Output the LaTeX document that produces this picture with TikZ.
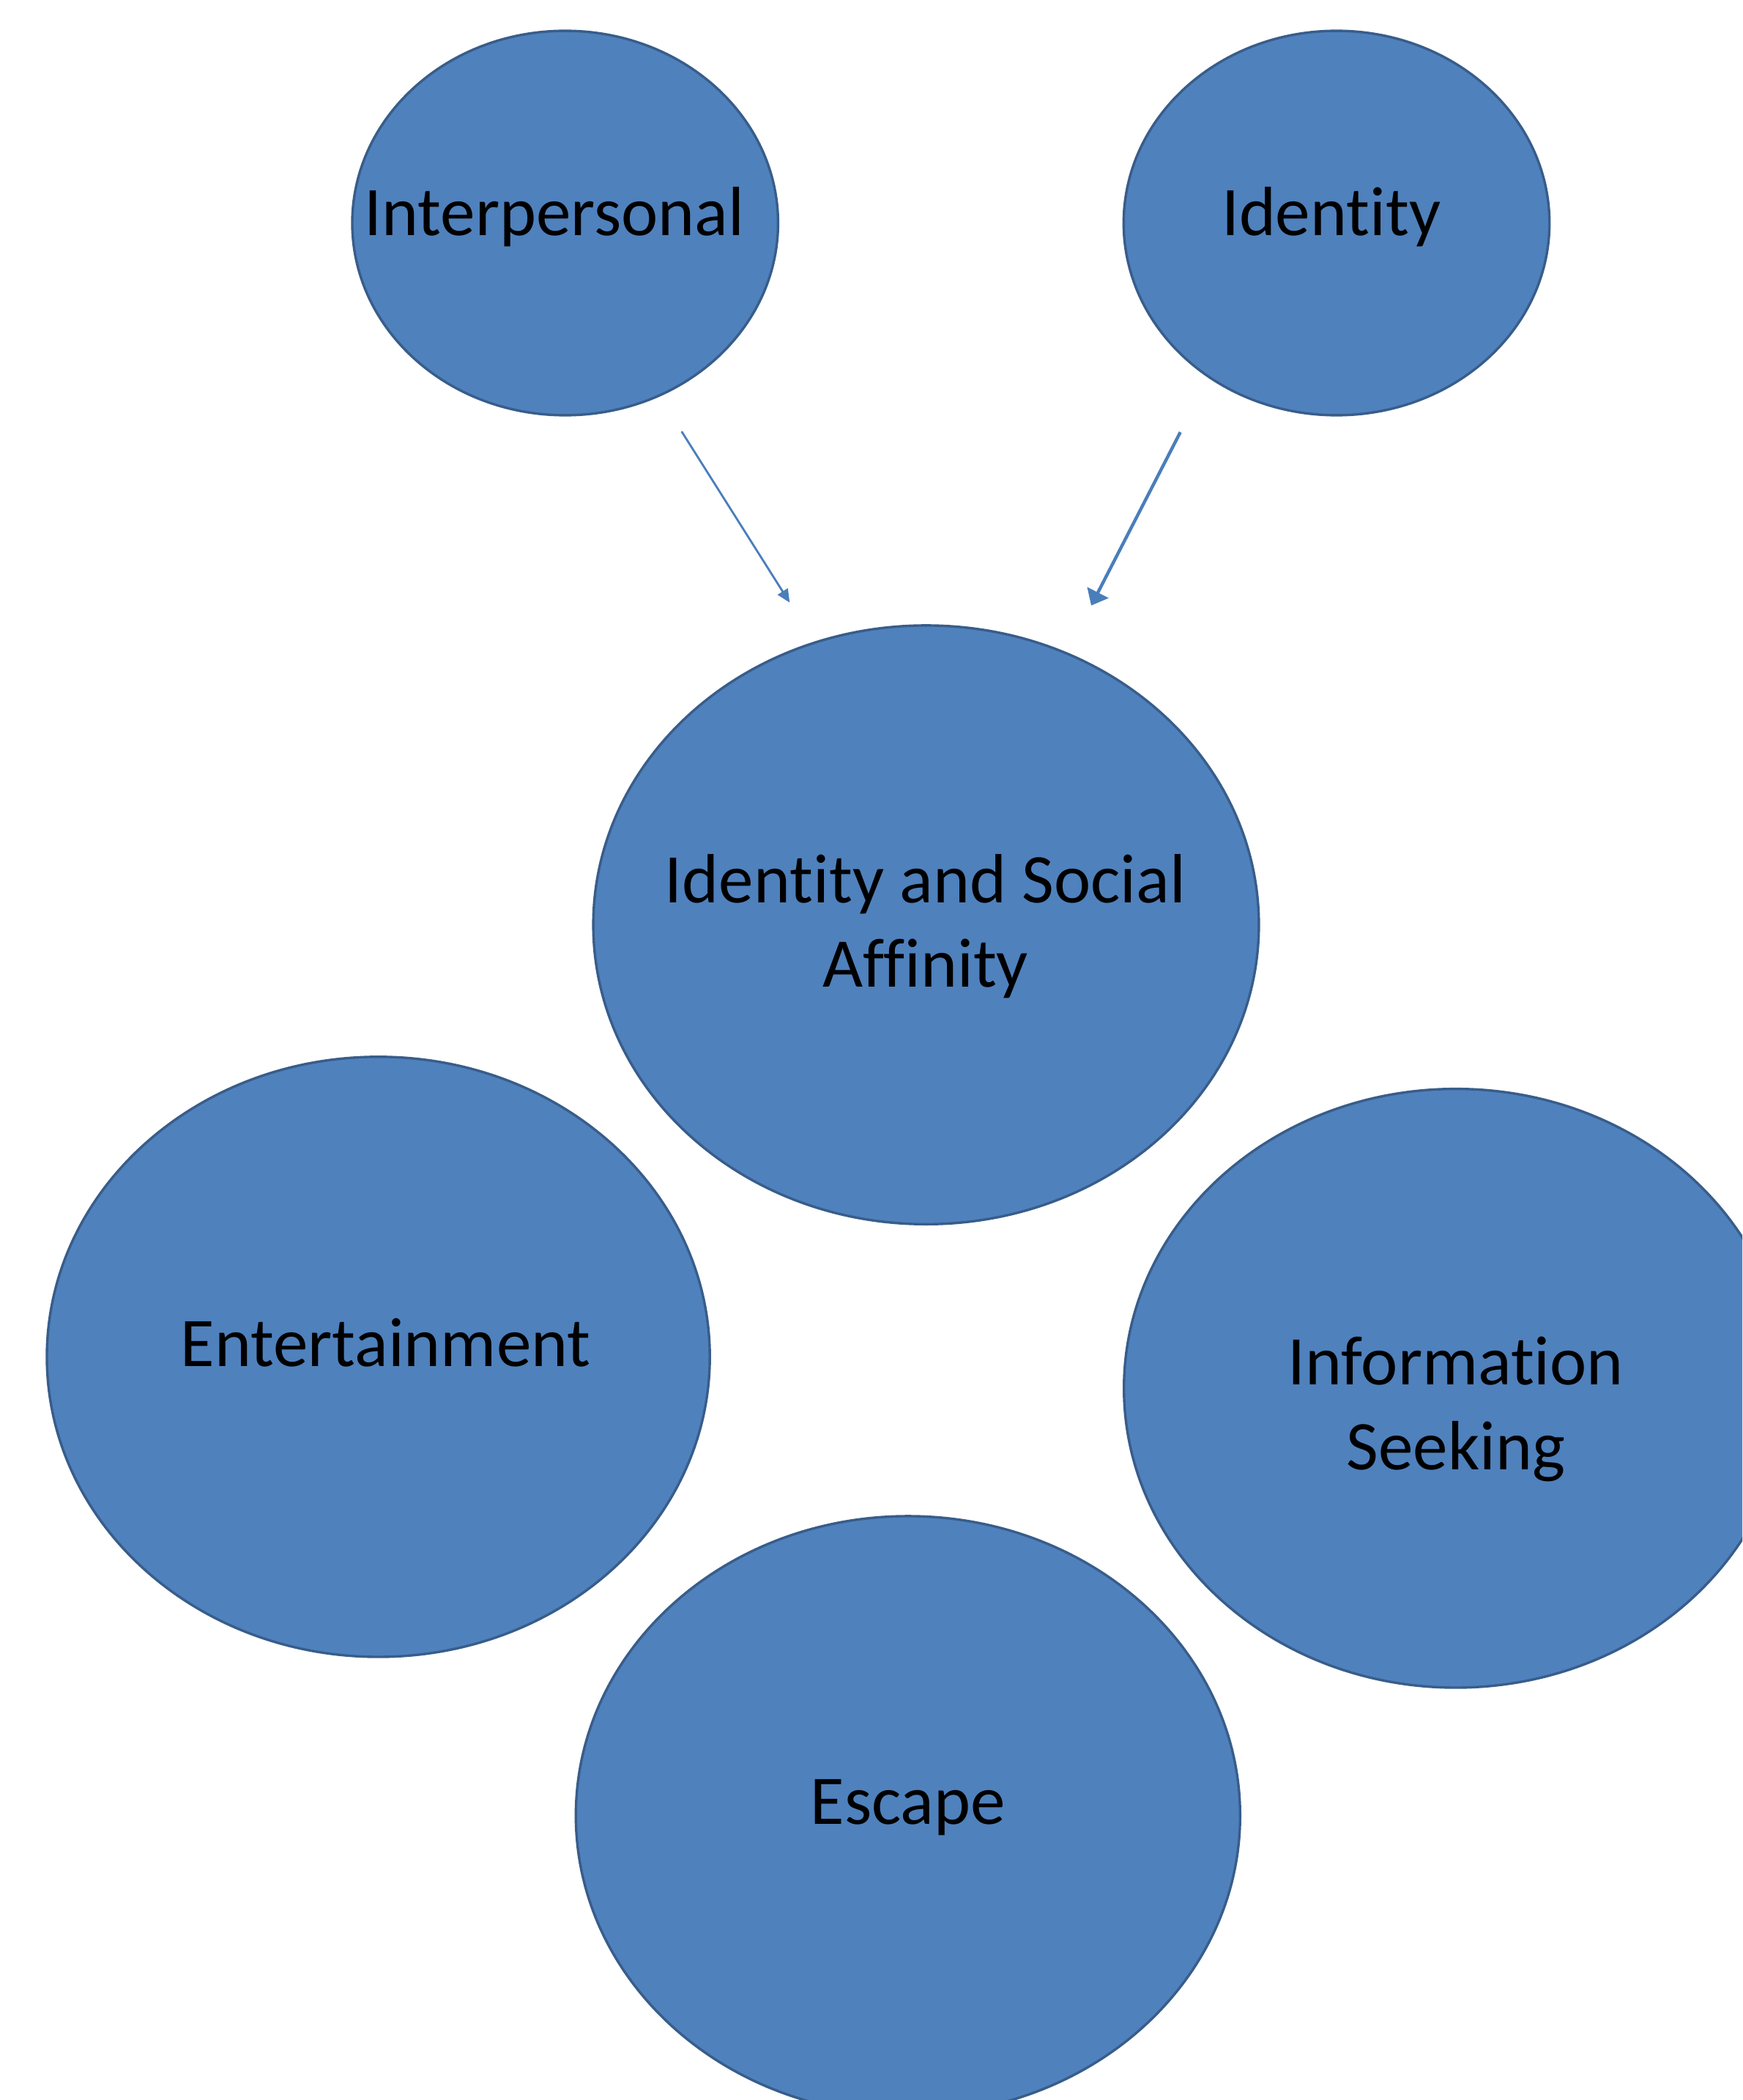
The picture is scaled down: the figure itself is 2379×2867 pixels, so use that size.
\documentclass[tikz,border=0pt]{standalone}
\usepackage{fontspec}
\setmainfont{Carlito}[RawFeature={-liga;-clig;-dlig;-calt;-rlig}]
\usetikzlibrary{arrows.meta}
\definecolor{bfill}{HTML}{4F81BD}
\definecolor{bline}{HTML}{385D8A}
\definecolor{arr}{HTML}{4A7EBB}
\tikzset{
  bubble/.style={fill=bfill, draw=bline, line width=0.85pt},
  lbl/.style={font=\fontsize{23.8}{28.8}\selectfont, text=black, inner sep=0pt, anchor=base},
  conn/.style={draw=arr, line cap=butt}
}
\begin{document}
\begin{tikzpicture}[x=0.25pt,y=-0.25pt]
\useasboundingbox (0,0) rectangle (2379,2867);
\clip (0,0) rectangle (2379,2867);
% ellipse centres (px)
\coordinate (e1) at (771.7,304.5);
\coordinate (e2) at (1825,304.5);
\coordinate (e3) at (1264.5,1262.6);
\coordinate (e4) at (516.6,1852.4);
\coordinate (e5) at (1987.7,1895.3);
\coordinate (e6) at (1239.8,2478.6);
\draw[bubble] (e1) ellipse [x radius=290.7, y radius=262.4];
\draw[bubble] (e2) ellipse [x radius=290.7, y radius=262.4];
\draw[bubble] (e3) ellipse [x radius=454.4, y radius=408.7];
\draw[bubble] (e4) ellipse [x radius=452.6, y radius=409.6];
\draw[bubble] (e5) ellipse [x radius=453, y radius=408.7];
\draw[bubble] (e6) ellipse [x radius=453.5, y radius=408.7];
% labels
\node[lbl] (t1) at (757,321.8) {Interpersonal};
\node[lbl] (t2) at (1817.6,321.8) {Identity};
\node[lbl] (t3a) at (1263.6,1232.5) {Identity and Social};
\node[lbl] (t3b) at (1263.6,1347.7) {Affinity};
\node[lbl] (t4) at (526.6,1865) {Entertainment};
\node[lbl] (t5a) at (1987.7,1890.8) {Information};
\node[lbl] (t5b) at (1987.7,2006) {Seeking};
\node[lbl] (t6) at (1239.8,2490.5) {Escape};
% connectors
\coordinate (a1s) at (930.7,589);
\coordinate (a1e) at (1078.3,822.7);
\coordinate (a2s) at (1611.7,590);
\coordinate (a2e) at (1490,826.7);
\draw[conn, line width=0.7pt, -{Triangle[length=4.5pt,width=4pt]}] (a1s) -- (a1e);
\draw[conn, line width=1.1pt, -{Triangle[length=5pt,width=8pt]}] (a2s) -- (a2e);
\end{tikzpicture}
\end{document}
